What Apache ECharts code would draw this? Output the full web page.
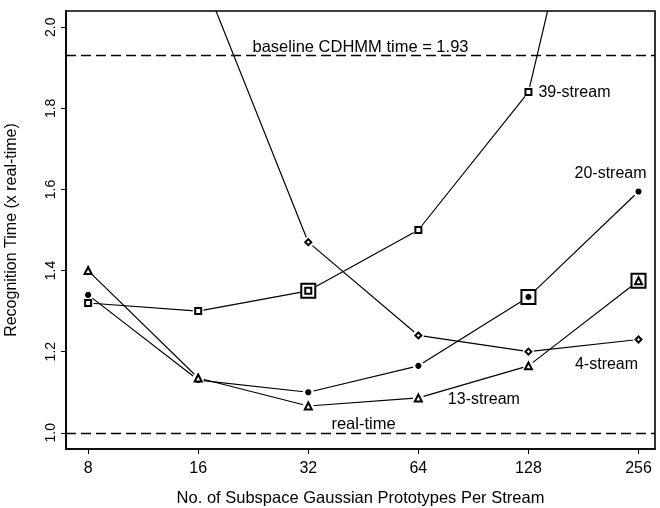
<!DOCTYPE html>
<html>
<head>
<meta charset="utf-8">
<script src="https://cdn.jsdelivr.net/npm/echarts@6/dist/echarts.min.js"></script>
<style>
  html, body { margin: 0; padding: 0; background: #fff; }
  #chart { width: 660px; height: 508px; }
</style>
</head>
<body>
<div id="chart"></div>
<script>
// values
const prototypes = [8, 16, 32, 64, 128, 256];
const stream39 = [1.32, 1.30, 1.35, 1.50, 1.84, 2.99];
const stream4 = [null, 2.15, 1.47, 1.24, 1.20, 1.23];
const stream20 = [1.34, 1.13, 1.10, 1.165, 1.335, 1.595];
const stream13 = [1.40, 1.135, 1.066, 1.086, 1.165, 1.375];
// index of the boxed (best) point per stream
const best39 = 2;
const best20 = 4;
const best13 = 5;
const baselineTime = 1.93;
const realTime = 1.0;
const yTicks = [1.0, 1.2, 1.4, 1.6, 1.8, 2.0];
const xTicks = [8, 16, 32, 64, 128, 256];

const FONT = "'Liberation Sans', Arial, sans-serif";
const chart = echarts.init(document.getElementById("chart"));

const pairs = (vals) => prototypes.map((p, i) => [p, vals[i]]);

// line without symbols
const lineSeries = (name, vals) => ({
  name: name,
  type: "line",
  data: pairs(vals),
  showSymbol: false,
  z: 2,
  lineStyle: { color: "#000", width: 1.2 },
  silent: true,
});

// markers, with an optional text label on one point
const markerSeries = (name, vals, symbol, size, labelIdx, label) => ({
  name: name + " marks",
  type: "scatter",
  z: 5,
  symbol: symbol,
  symbolSize: size,
  itemStyle: { color: "#000", borderColor: "#000", borderWidth: 1.1, opacity: 1 },
  data: pairs(vals).map((d, i) =>
    i === labelIdx ? { value: d, label: Object.assign({ show: true }, label) } : d
  ),
  label: { show: false, color: "#000", fontSize: 16, fontFamily: FONT },
  silent: true,
});

const allPoints = [stream39, stream4, stream20, stream13]
  .map(pairs)
  .flat()
  .filter((d) => d[1] !== null && d[1] < 2.04);

const boxed = [
  [prototypes[best39], stream39[best39]],
  [prototypes[best20], stream20[best20]],
  [prototypes[best13], stream13[best13]],
];

const option = {
  animation: false,
  backgroundColor: "#fff",
  textStyle: { fontFamily: FONT, color: "#000" },
  grid: {
    left: 66, right: 5, top: 11, bottom: 59,
    outerBoundsMode: "none",
    containLabel: false,
    show: true, borderColor: "#000", borderWidth: 1.6,
  },
  xAxis: {
    type: "log",
    logBase: 2,
    min: 6.96,
    max: 284,
    name: "No. of Subspace Gaussian Prototypes Per Stream",
    nameLocation: "middle",
    nameGap: 41,
    nameTextStyle: { fontSize: 16.5, color: "#000", fontFamily: FONT },
    axisLine: { lineStyle: { color: "#000", width: 1.6 } },
    axisTick: { customValues: xTicks, length: 5, lineStyle: { color: "#000" } },
    axisLabel: {
      customValues: xTicks,
      fontSize: 16, color: "#000", fontFamily: FONT, margin: 12,
    },
    splitLine: { show: false },
  },
  yAxis: {
    type: "value",
    min: 0.96,
    max: 2.04,
    name: "Recognition Time (x real-time)",
    nameLocation: "middle",
    nameGap: 46,
    nameTextStyle: { fontSize: 16, color: "#000", fontFamily: FONT },
    axisLine: { show: true, lineStyle: { color: "#000", width: 1.6 } },
    axisTick: { show: true, customValues: yTicks, length: 5, lineStyle: { color: "#000" } },
    axisLabel: {
      customValues: yTicks,
      rotate: 90,
      fontSize: 14, color: "#000", fontFamily: FONT, margin: 8,
      formatter: (v) => v.toFixed(1),
    },
    splitLine: { show: false },
  },
  series: [
    Object.assign(lineSeries("39-stream", stream39), {
      markLine: {
        silent: true,
        symbol: "none",
        lineStyle: { color: "#000", type: [10, 5], width: 1.3 },
        label: { color: "#000", fontSize: 16.5, fontFamily: FONT },
        data: [
          {
            yAxis: baselineTime,
            label: { position: "middle", formatter: "baseline CDHMM time = " + baselineTime, distance: 1, offset: [0, 1] },
          },
          {
            yAxis: realTime,
            label: { position: "middle", formatter: "real-time", distance: 1, offset: [3, 1] },
          },
        ],
      },
    }),
    lineSeries("4-stream", stream4),
    lineSeries("20-stream", stream20),
    lineSeries("13-stream", stream13),
    {
      // white halo so the lines stop short of the markers
      name: "gaps",
      type: "scatter",
      z: 3,
      symbol: "circle",
      symbolSize: 11,
      itemStyle: { color: "#fff", opacity: 1 },
      data: allPoints,
      silent: true,
    },
    {
      // box round the best point of three streams
      name: "best",
      type: "scatter",
      z: 4,
      symbol: "emptyRect",
      symbolSize: 14,
      itemStyle: { color: "#000", borderColor: "#000", borderWidth: 1.5, opacity: 1 },
      data: boxed,
      silent: true,
    },
    markerSeries("39-stream", stream39, "emptyRect", 6, 4,
      { formatter: "39-stream", position: "right", distance: 6 }),
    markerSeries("4-stream", stream4, "emptyDiamond", 6, 5,
      { formatter: "4-stream", position: "bottom", distance: 5, offset: [-32, 8] }),
    markerSeries("20-stream", stream20, "circle", 5, 5,
      { formatter: "20-stream", position: "top", distance: 5, offset: [-28, -2] }),
    markerSeries("13-stream", stream13, "emptyTriangle", 7, 3,
      { formatter: "13-stream", position: "right", distance: 25, offset: [0, 2] }),
  ],
};

chart.setOption(option);
</script>
</body>
</html>
